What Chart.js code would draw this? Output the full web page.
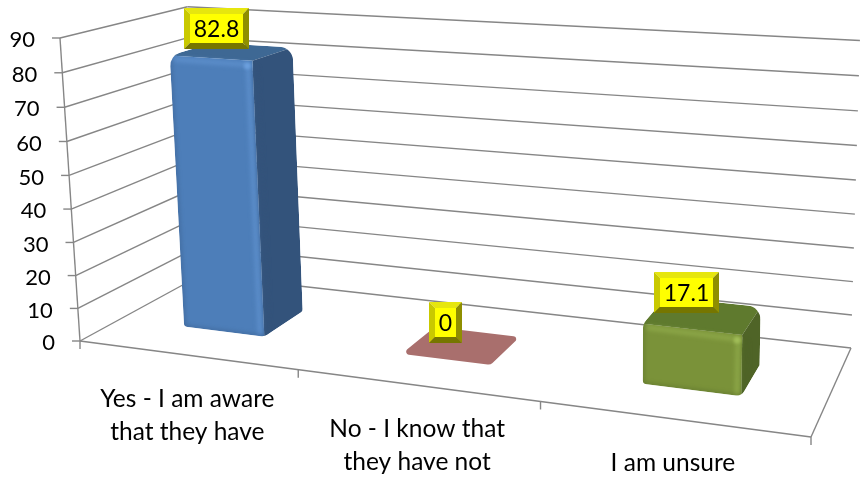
<!DOCTYPE html>
<html>
<head>
<meta charset="utf-8">
<style>
html, body { margin: 0; background: #fff; }
canvas { display: block; }
</style>
<script src="https://cdn.jsdelivr.net/npm/chart.js@4/dist/chart.umd.min.js"></script>
</head>
<body>
<canvas id="chart" width="860" height="477"></canvas>
<script>
const categories = [['Yes - I am aware', 'that they have'], ['No - I know that', 'they have not'], ['I am unsure']];
const values = [82.8, 0, 17.1];
const frontColors = ['#4d7eb9', '#a96f6d', '#7a9239'];
const sideColors = ['#33537b', '#a96f6d', '#4f6427'];
const topColors = ['#3e6894', '#a96f6d', '#5f7a2e'];
const glowColors = ['#6ea2e0', '#a96f6d', '#a3c05a'];

const TICK_FONT = '22px Lato';
const CAT_FONT = '24.5px Lato';
const VALUE_FONT = '23px Lato';
const GRID = '#868686';

// corners of the floor on the page: (0,0) (1,0) (1,1) (0,1)
const floorCorners = [[80, 341], [811, 437], [851, 348], [201, 275]];
const axisTop = [60, 38];
const heightPersp = -0.036;
const barDepth = [0.31, 0.67];

function buildProjection(q) {
	const dx1 = q[1][0] - q[2][0], dx2 = q[3][0] - q[2][0], sx = q[0][0] - q[1][0] + q[2][0] - q[3][0];
	const dy1 = q[1][1] - q[2][1], dy2 = q[3][1] - q[2][1], sy = q[0][1] - q[1][1] + q[2][1] - q[3][1];
	const det = dx1 * dy2 - dx2 * dy1;
	const g = (sx * dy2 - dx2 * sy) / det;
	const h = (dx1 * sy - sx * dy1) / det;
	const m = heightPersp;
	const kx = axisTop[0] * (1 + m) - q[0][0];
	const ky = axisTop[1] * (1 + m) - q[0][1];
	return (u, w, v) => {
		const d = g * u + h * w + m * v + 1;
		return [
			((q[1][0] - q[0][0] + g * q[1][0]) * u + (q[3][0] - q[0][0] + h * q[3][0]) * w + q[0][0] + kx * v) / d,
			((q[1][1] - q[0][1] + g * q[1][1]) * u + (q[3][1] - q[0][1] + h * q[3][1]) * w + q[0][1] + ky * v) / d
		];
	};
}
const box = buildProjection(floorCorners);

// scale pixels + depth -> page position
function project(chart, px, py, w) {
	const a = chart.chartArea;
	return box((px - a.left) / a.width, w, (a.bottom - py) / a.height);
}

function line(ctx, a, b) {
	ctx.beginPath();
	ctx.moveTo(a[0], a[1]);
	ctx.lineTo(b[0], b[1]);
	ctx.stroke();
}

function poly(ctx, pts, color) {
	ctx.fillStyle = color;
	ctx.beginPath();
	pts.forEach((p, i) => i ? ctx.lineTo(p[0], p[1]) : ctx.moveTo(p[0], p[1]));
	ctx.closePath();
	ctx.fill();
}

function roundPath(ctx, pts, radii) {
	const n = pts.length;
	ctx.beginPath();
	ctx.moveTo((pts[n - 1][0] + pts[0][0]) / 2, (pts[n - 1][1] + pts[0][1]) / 2);
	pts.forEach((p, i) => {
		const next = pts[(i + 1) % n];
		ctx.arcTo(p[0], p[1], (p[0] + next[0]) / 2, (p[1] + next[1]) / 2, radii[i]);
	});
	ctx.closePath();
}

function drawWalls(chart) {
	const ctx = chart.ctx, a = chart.chartArea, x = chart.scales.x, y = chart.scales.y;
	ctx.save();
	ctx.strokeStyle = GRID;
	ctx.lineWidth = 1.4;
	y.ticks.forEach(t => {
		const py = y.getPixelForValue(t.value);
		const front = project(chart, a.left, py, 0);
		const back = project(chart, a.left, py, 1);
		const right = project(chart, a.right, py, 1);
		line(ctx, [front[0] - 8, front[1]], front);
		line(ctx, front, back);
		line(ctx, back, right);
		ctx.fillStyle = '#000';
		ctx.font = TICK_FONT;
		ctx.textAlign = 'right';
		ctx.textBaseline = 'middle';
		ctx.fillText(t.label, front[0] - 25, front[1] + 2);
	});
	line(ctx, project(chart, a.left, a.top, 0), project(chart, a.left, a.bottom, 0));
	line(ctx, project(chart, a.left, a.bottom, 0), project(chart, a.right, a.bottom, 0));
	line(ctx, project(chart, a.right, a.bottom, 0), project(chart, a.right, a.bottom, 1));
	// category separators and labels along the front edge
	for (let i = 0; i <= x.ticks.length; i++) {
		const p = project(chart, x.getPixelForValue(i - 0.5), a.bottom, 0);
		line(ctx, p, [p[0], p[1] + 8]);
	}
	ctx.fillStyle = '#000';
	ctx.font = CAT_FONT;
	ctx.textAlign = 'center';
	ctx.textBaseline = 'middle';
	x.ticks.forEach((t, i) => {
		const p = project(chart, x.getPixelForValue(i), a.bottom, 0);
		[].concat(t.label).forEach((txt, k) => ctx.fillText(txt, p[0] + 1, p[1] + 44 + k * 33));
	});
	ctx.restore();
}

function drawBar(chart, el, i) {
	const ctx = chart.ctx;
	const l = el.x - el.width / 2, r = el.x + el.width / 2;
	const p = (px, py, w) => project(chart, px, py, w);
	const fbl = p(l, el.base, barDepth[0]), fbr = p(r, el.base, barDepth[0]);
	const bbr = p(r, el.base, barDepth[1]);
	const ftl = p(l, el.y, barDepth[0]), ftr = p(r, el.y, barDepth[0]);
	const btr = p(r, el.y, barDepth[1]), btl = p(l, el.y, barDepth[1]);
	ctx.save();
	if (el.base - el.y < 1) {
		roundPath(ctx, [ftl, ftr, btr, btl], [3, 6, 3, 3]);
		ctx.fillStyle = topColors[i];
		ctx.fill();
		ctx.restore();
		return;
	}
	roundPath(ctx, [fbl, fbr, bbr, btr, btl, ftl], [4, 9, 4, 14, 14, 14]);
	ctx.clip();
	poly(ctx, [ftl, ftr, btr, btl], topColors[i]);
	poly(ctx, [fbr, bbr, btr, ftr], sideColors[i]);
	poly(ctx, [fbl, fbr, ftr, ftl], frontColors[i]);
	// rounded look: darker rim on the outside, soft lit edges where the faces meet
	ctx.lineCap = 'round';
	ctx.filter = 'blur(2px)';
	ctx.strokeStyle = sideColors[i];
	ctx.globalAlpha = 0.5;
	ctx.lineWidth = 3;
	line(ctx, fbl, ftl);
	line(ctx, fbl, fbr);
	ctx.strokeStyle = glowColors[i];
	ctx.globalAlpha = 0.45;
	ctx.lineWidth = 5;
	line(ctx, [ftl[0] + 6, ftl[1] + 4], [ftr[0] - 6, ftr[1] + 4]);
	line(ctx, [ftr[0] - 4, ftr[1] + 6], [fbr[0] - 4, fbr[1] - 4]);
	ctx.strokeStyle = sideColors[i];
	ctx.globalAlpha = 0.6;
	line(ctx, [ftr[0] + 3, ftr[1] + 8], [fbr[0] + 3, fbr[1]]);
	ctx.filter = 'blur(1.5px)';
	ctx.globalAlpha = 0.9;
	ctx.fillStyle = glowColors[i];
	ctx.beginPath();
	ctx.arc(ftr[0] - 5, ftr[1] + 5, 3.5, 0, Math.PI * 2);
	ctx.fill();
	ctx.restore();
}

function drawValueLabel(chart, el, text) {
	const ctx = chart.ctx;
	const c = project(chart, el.x, el.y, (barDepth[0] + barDepth[1]) / 2);
	ctx.save();
	ctx.font = VALUE_FONT;
	const w = Math.round(ctx.measureText(text).width) + 20, h = 41, b = 6;
	const x0 = Math.round(c[0] - 16 - w / 2), y0 = Math.round(c[1] - 23 - h / 2);
	const x1 = x0 + w, y1 = y0 + h;
	poly(ctx, [[x0, y0], [x1, y0], [x1 - b, y0 + b], [x0 + b, y0 + b]], '#e6e60e');
	poly(ctx, [[x0, y0], [x0 + b, y0 + b], [x0 + b, y1 - b], [x0, y1]], '#c9c900');
	poly(ctx, [[x1, y0], [x1 - b, y0 + b], [x1 - b, y1 - b], [x1, y1]], '#8f8f00');
	poly(ctx, [[x0, y1], [x0 + b, y1 - b], [x1 - b, y1 - b], [x1, y1]], '#767600');
	ctx.fillStyle = '#ffff00';
	ctx.fillRect(x0 + b, y0 + b, w - 2 * b, h - 2 * b);
	ctx.fillStyle = '#000';
	ctx.textAlign = 'center';
	ctx.textBaseline = 'middle';
	ctx.fillText(text, (x0 + x1) / 2, (y0 + y1) / 2 + 1);
	ctx.restore();
}

const box3d = {
	id: 'box3d',
	beforeDatasetsDraw(chart) {
		drawWalls(chart);
	},
	beforeDatasetDraw(chart, args) {
		args.meta.data.forEach((el, i) => drawBar(chart, el, i));
		return false;
	},
	afterDatasetsDraw(chart) {
		chart.getDatasetMeta(0).data.forEach((el, i) => drawValueLabel(chart, el, String(values[i])));
	}
};

new Chart(document.getElementById('chart'), {
	type: 'bar',
	data: {
		labels: categories,
		datasets: [{ data: values, backgroundColor: frontColors, barPercentage: 0.38, categoryPercentage: 1 }]
	},
	options: {
		responsive: false,
		animation: false,
		plugins: { legend: { display: false }, tooltip: { enabled: false } },
		scales: {
			x: { display: false },
			y: { display: false, min: 0, max: 90, ticks: { stepSize: 10 } }
		}
	},
	plugins: [box3d]
});
</script>
</body>
</html>
